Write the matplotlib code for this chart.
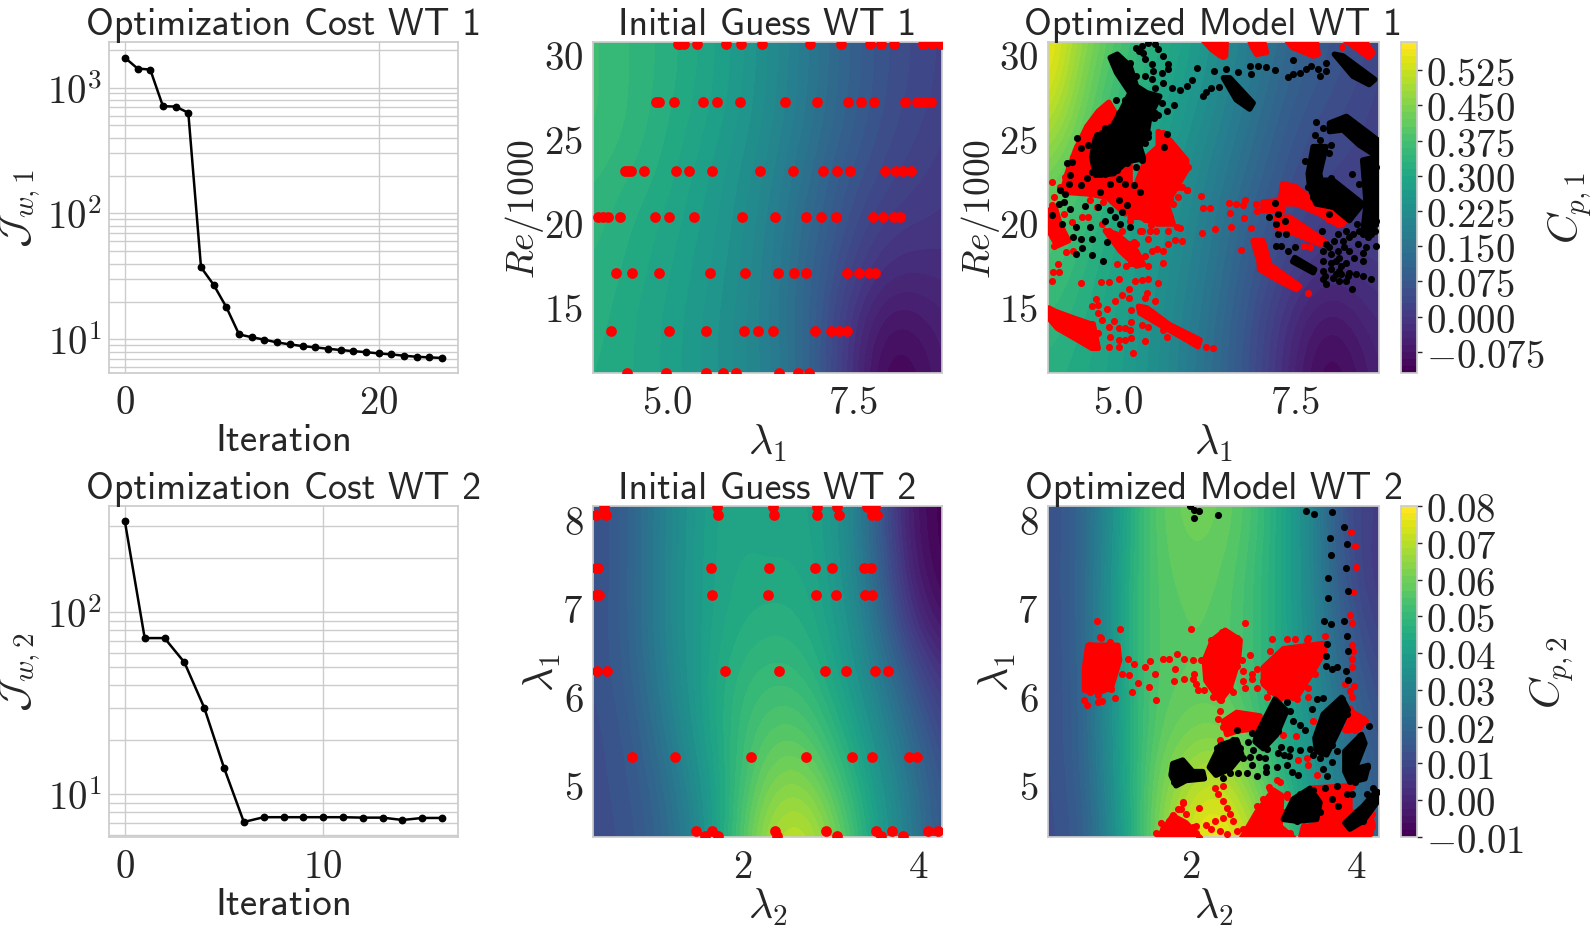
import numpy as np
import matplotlib
matplotlib.use('Agg')
from matplotlib import pyplot as plt
from matplotlib.colors import BoundaryNorm
from matplotlib.ticker import FuncFormatter, NullFormatter

WIDTH = 1592
HEIGHT = 929

plt.rcParams['mathtext.fontset'] = 'cm'
plt.rcParams['font.size'] = 28
plt.rcParams['text.color'] = '.15'
plt.rcParams['axes.labelcolor'] = '.15'
plt.rcParams['xtick.color'] = '.15'
plt.rcParams['ytick.color'] = '.15'

# optimization cost per iteration
COST_WT1 = [1729, 1416, 1390, 711, 707, 630, 37.4, 27.1, 18.0, 10.96, 10.4, 9.95, 9.46,
            9.13, 8.85, 8.64, 8.43, 8.23, 8.07, 7.92, 7.74, 7.6, 7.42, 7.28, 7.2, 7.12]
COST_WT2 = [317, 72.3, 72.3, 53.2, 30.0, 14.0, 7.05, 7.49, 7.49, 7.49, 7.49, 7.49, 7.45,
            7.45, 7.23, 7.42, 7.42]

# Cp surfaces, rows go with the second coordinate
LAM1_NODES = [4.0, 4.5, 5.0, 5.5, 6.0, 6.5, 7.0, 7.5, 8.0, 8.5, 9.0]
RE_NODES = [11, 14, 17, 20, 23, 26, 29, 32]
CP1_INITIAL = [
    [.317, .303, .282, .254, .218, .176, .092, -.021, -.120, -.085, -.035],
    [.324, .303, .282, .254, .218, .169, .092, -.014, -.085, -.064, -.035],
    [.331, .310, .289, .261, .225, .169, .099, .021, -.028, -.028, -.021],
    [.338, .317, .296, .268, .233, .176, .113, .049, .007, .000, -.007],
    [.352, .331, .310, .275, .240, .190, .127, .070, .035, .014, .000],
    [.366, .345, .317, .289, .254, .204, .148, .092, .049, .028, .007],
    [.366, .345, .324, .296, .261, .211, .155, .099, .056, .035, .014],
    [.366, .345, .324, .296, .261, .211, .155, .099, .056, .035, .014],
]
CP1_OPTIMIZED = [
    [.324, .303, .275, .233, .176, .113, .035, -.050, -.120, -.064, -.028],
    [.345, .317, .282, .240, .183, .120, .042, -.035, -.085, -.042, -.014],
    [.374, .331, .289, .247, .197, .134, .063, .007, -.021, -.007, .007],
    [.402, .352, .303, .261, .211, .148, .084, .035, .007, .014, .021],
    [.444, .381, .324, .275, .225, .169, .113, .056, .028, .021, .021],
    [.515, .416, .345, .296, .247, .190, .134, .077, .049, .028, .014],
    [.571, .444, .366, .317, .268, .211, .155, .099, .070, .042, .014],
    [.585, .472, .388, .331, .282, .225, .169, .113, .077, .049, .021],
]

LAM2_NODES = [0.3, 0.7, 1.1, 1.5, 1.9, 2.3, 2.7, 3.1, 3.5, 3.9, 4.3]
LAM1_ROWS = [4.4, 5.0, 5.6, 6.2, 6.8, 7.4, 8.0, 8.6]
CP2_INITIAL = [
    [.012, .013, .020, .032, .051, .069, .073, .060, .042, .028, .013],
    [.012, .014, .022, .035, .049, .062, .064, .053, .0395, .026, .0125],
    [.012, .015, .026, .039, .049, .056, .056, .047, .035, .0215, .008],
    [.0125, .017, .029, .040, .048, .051, .050, .042, .0305, .015, .003],
    [.0125, .018, .0305, .040, .045, .047, .046, .0395, .026, .005, -.0055],
    [.012, .018, .0305, .040, .044, .044, .044, .038, .022, -.001, -.010],
    [.012, .018, .030, .0395, .044, .042, .043, .037, .020, -.004, -.010],
    [.012, .018, .030, .0395, .044, .042, .043, .037, .020, -.004, -.010],
]
CP2_OPTIMIZED = [
    [.012, .015, .035, .057, .073, .080, .073, .0575, .0395, .028, .019],
    [.012, .017, .037, .057, .067, .073, .064, .0485, .037, .026, .015],
    [.012, .018, .038, .055, .060, .062, .057, .044, .035, .022, .0125],
    [.012, .018, .0395, .055, .057, .057, .053, .044, .033, .019, .010],
    [.012, .019, .0395, .055, .057, .057, .053, .044, .031, .015, .007],
    [.012, .019, .039, .055, .058, .058, .053, .044, .0305, .012, .004],
    [.012, .019, .037, .055, .060, .060, .055, .044, .030, .010, .006],
    [.012, .019, .037, .055, .060, .060, .055, .044, .030, .010, .006],
]

# sampled operating points used to start the fit, one list per Reynolds row
GUESS_WT1_RE = [11.0, 13.52, 16.95, 20.28, 23.0, 27.1, 30.6]
GUESS_WT1_LAM = [
    [4.47, 4.99, 5.52, 5.75, 5.93, 6.51, 6.76, 6.90],
    [4.25, 5.03, 5.53, 6.03, 6.22, 6.42, 6.99, 7.20, 7.31, 7.42],
    [4.32, 4.53, 4.89, 5.58, 6.05, 6.49, 6.71, 6.87, 7.42, 7.58, 7.71, 7.79],
    [4.08, 4.14, 4.21, 4.37, 4.84, 5.03, 5.36, 6.01, 6.45, 6.87, 7.07, 7.27, 7.77, 7.90, 8.05, 8.13],
    [4.44, 4.48, 4.52, 4.69, 5.12, 5.30, 5.61, 6.25, 6.69, 7.10, 7.28, 7.46, 7.93, 8.07, 8.17, 8.28],
    [4.85, 4.89, 5.09, 5.49, 5.67, 5.98, 6.58, 7.02, 7.43, 7.60, 7.78, 8.20, 8.35, 8.45, 8.54],
    [5.15, 5.18, 5.23, 5.40, 5.80, 5.99, 6.28, 6.92, 7.33, 7.72, 7.87, 8.05, 8.43, 8.56, 8.67],
]
GUESS_WT2_LAM1 = [8.14, 8.045, 7.45, 7.14, 6.28, 5.30, 4.468, 4.41]
GUESS_WT2_LAM2 = [
    [.42, 1.70, 2.34, 2.85, 3.07, 3.41, 3.51],
    [.32, .44, 1.71, 2.35, 2.85, 3.09, 3.47, 3.53],
    [.32, .35, 1.64, 2.30, 2.82, 3.02, 3.38, 3.46],
    [.32, .36, 1.65, 2.28, 2.83, 3.06, 3.39, 3.47],
    [.34, .45, 1.79, 2.41, 2.94, 3.17, 3.51, 3.65],
    [.73, 1.22, 2.09, 2.72, 3.24, 3.47, 3.89, 3.98],
    [1.46, 1.65, 2.36, 2.95, 3.52, 3.70, 4.11, 4.23],
    [1.57, 1.71, 2.39, 3.07, 3.57, 3.82],
]

# outlines of the regions where the operating points pile up (lambda_1, Re/1000)
DENSE_RED_WT1 = [
    [(6.20, 30.83), (6.53, 30.83), (6.52, 29.87), (6.45, 29.87), (6.32, 30.27)],
    [(6.86, 30.83), (7.05, 30.83), (7.10, 30.07), (6.96, 29.97), (6.89, 30.47)],
    [(7.38, 30.83), (7.80, 30.83), (7.83, 29.97), (7.76, 29.87), (7.59, 30.17), (7.47, 30.37)],
    [(8.20, 30.83), (8.48, 30.83), (8.60, 30.07), (8.55, 29.77), (8.39, 30.27)],
    [(4.87, 27.11), (4.96, 26.47), (5.17, 24.87), (5.17, 22.87), (5.17, 21.07), (5.10, 20.47), (4.84, 21.47),
     (4.56, 21.67), (4.21, 21.77), (4.28, 22.87), (4.40, 24.27), (4.56, 25.67), (4.72, 26.57)],
    [(5.57, 25.37), (5.73, 24.87), (5.97, 23.67), (5.97, 23.07), (5.83, 22.07), (5.69, 21.07), (5.78, 19.87),
     (5.55, 19.87), (5.31, 20.27), (5.17, 20.27), (5.26, 22.27), (5.41, 23.87), (5.57, 24.47)],
    [(4.02, 20.67), (4.11, 20.87), (4.18, 19.87), (4.30, 18.87), (4.14, 18.57), (4.02, 19.47)],
    [(4.82, 19.47), (4.98, 19.27), (5.26, 18.27), (5.36, 17.47), (5.26, 17.37), (5.03, 18.27)],
    [(4.02, 14.87), (4.11, 14.67), (4.37, 14.27), (4.65, 13.87), (4.72, 12.47), (4.63, 12.47), (4.47, 12.87),
     (4.14, 13.67), (4.02, 14.27)],
    [(5.29, 14.97), (5.41, 14.87), (5.73, 13.87), (6.16, 12.97), (6.13, 12.57), (5.97, 12.97), (5.59, 13.87),
     (5.31, 14.57)],
    [(7.00, 17.67), (7.07, 18.47), (7.14, 17.47), (7.57, 16.17), (7.52, 15.97), (7.24, 16.57), (7.00, 17.17)],
    [(7.33, 22.27), (7.52, 22.07), (7.80, 21.07), (8.23, 20.07), (8.13, 19.77), (7.85, 20.47), (7.52, 21.07),
     (7.29, 21.07)],
    [(7.24, 20.27), (7.43, 20.27), (7.85, 19.07), (7.94, 18.77), (7.85, 18.67), (7.52, 19.27), (7.24, 19.67)],
    [(7.05, 21.17), (7.33, 21.27), (7.33, 20.67), (7.05, 20.67)],
    [(6.91, 18.87), (7.05, 18.87), (7.14, 17.47), (7.00, 17.57)],
]
DENSE_BLACK_WT1 = [
    [(4.89, 29.77), (4.99, 29.97), (5.17, 29.27), (5.26, 28.07), (5.41, 27.67), (5.59, 27.47), (5.45, 26.27),
     (5.41, 25.27), (5.31, 24.47), (5.08, 24.47), (4.89, 25.47), (5.05, 26.67), (5.17, 27.67), (4.98, 28.87)],
    [(6.49, 28.57), (6.58, 28.57), (6.91, 27.07), (6.86, 26.71), (6.67, 27.27)],
    [(8.06, 29.97), (8.18, 29.87), (8.63, 28.47), (8.55, 28.17), (8.32, 28.67)],
    [(7.99, 25.87), (8.23, 26.27), (8.67, 24.87), (8.67, 23.87), (8.41, 24.57), (8.18, 25.47), (7.99, 25.37)],
    [(7.76, 24.47), (7.94, 24.47), (7.85, 22.87), (7.90, 21.87), (8.04, 20.87), (7.80, 21.07), (7.71, 22.07),
     (7.69, 22.87)],
    [(7.90, 22.47), (8.04, 22.47), (8.46, 21.07), (8.27, 20.07), (7.99, 21.07)],
    [(8.46, 23.67), (8.67, 23.87), (8.67, 19.87), (8.46, 19.27), (8.51, 21.07)],
    [(7.50, 17.87), (7.78, 17.17), (7.76, 16.97), (7.47, 17.63)],
    [(4.68, 24.97), (4.91, 25.07), (5.31, 24.47), (5.36, 23.77), (5.12, 23.57), (4.94, 22.87), (4.68, 22.77),
     (4.63, 23.87)],
]
LOOSE_RED_WT1 = [
    (4.06, 22.37), (4.09, 21.47), (4.07, 20.97), (4.10, 18.53), (4.27, 18.21), (4.15, 17.51), (4.08, 17.03),
    (4.16, 17.03), (4.07, 16.47), (4.48, 16.33), (4.76, 16.41), (4.87, 16.43), (4.98, 17.51), (5.11, 17.37),
    (5.19, 17.57), (5.31, 17.57), (5.38, 17.97), (5.43, 17.37), (5.63, 17.57), (5.24, 16.47), (5.34, 16.53),
    (5.43, 16.57), (5.57, 16.33), (5.01, 16.57), (5.15, 15.97), (5.05, 15.67), (4.96, 15.27), (5.16, 15.47),
    (5.41, 15.77), (5.38, 15.47), (5.52, 15.27), (4.69, 15.41), (4.63, 14.97), (4.72, 15.07), (4.84, 14.81),
    (4.72, 14.57), (5.19, 14.77), (4.77, 14.17), (4.94, 14.11), (4.63, 13.91), (4.72, 13.37), (4.87, 13.71),
    (5.01, 13.67), (5.10, 13.67), (5.19, 14.03), (5.17, 13.57), (5.34, 13.83), (5.42, 13.71), (4.89, 13.17),
    (5.01, 12.97), (5.10, 12.97), (5.19, 13.11), (5.38, 12.91), (4.87, 12.53), (5.02, 12.57), (5.21, 12.17),
    (5.64, 13.57), (5.69, 13.17), (6.24, 12.57), (6.34, 12.47), (7.69, 15.77), (6.18, 21.53), (6.20, 20.81),
    (6.30, 20.81), (6.19, 19.31), (6.37, 19.57), (6.60, 19.67), (6.88, 19.61), (6.78, 20.21), (6.58, 20.53),
    (6.57, 21.11), (6.67, 21.03), (6.79, 21.27), (6.77, 21.01), (6.95, 21.07), (6.96, 20.67), (6.74, 18.31),
    (6.95, 18.67), (7.63, 18.57), (7.72, 18.51), (7.51, 19.63), (7.97, 20.17), (8.16, 19.91), (5.81, 18.91),
    (5.91, 18.83), (5.88, 19.63), (5.71, 18.67), (5.64, 18.27), (5.55, 18.37), (5.48, 18.27), (5.43, 18.97),
    (5.46, 19.83), (5.54, 19.47), (5.73, 21.37), (5.85, 21.47), (5.91, 22.07), (5.98, 21.87), (5.99, 23.27),
    (5.78, 21.07), (5.38, 20.17), (5.31, 19.47), (5.22, 18.77), (5.26, 18.67), (8.17, 30.43), (6.49, 29.87),
    (7.80, 30.03), (4.87, 19.47), (4.09, 19.47), (4.04, 20.07), (4.07, 20.77), (4.37, 18.27), (4.23, 20.47),
    (4.49, 20.27), (4.58, 20.27), (4.70, 20.87), (4.35, 19.97), (4.79, 21.17), (4.89, 21.47), (4.61, 21.27),
    (4.77, 19.87),
    (4.72, 26.27), (4.65, 25.87), (4.56, 25.67), (4.49, 24.97), (4.42, 24.47), (4.37, 23.87), (4.30, 23.27),
    (4.25, 22.67), (4.18, 22.07), (4.23, 21.87), (5.64, 25.27), (5.62, 24.77), (5.78, 24.47), (5.90, 23.87),
    (5.97, 23.27), (5.90, 22.87), (5.83, 22.47), (5.85, 22.07), (5.97, 21.91), (5.73, 21.97), (5.66, 20.87),
    (5.73, 20.27), (5.83, 19.67), (5.71, 19.47), (5.62, 20.07), (5.45, 19.47), (5.34, 19.47), (5.17, 20.07),
    (5.05, 19.47), (5.17, 18.67), (5.24, 18.07), (5.31, 17.87),
]
LOOSE_BLACK_WT1 = [
    (5.26, 30.37), (5.34, 30.47), (5.43, 30.67), (5.52, 30.57), (5.57, 30.27), (5.64, 29.87), (5.71, 29.37),
    (5.71, 29.07), (5.62, 28.87), (5.50, 28.97), (5.48, 29.37), (5.38, 29.67), (5.29, 30.17), (5.36, 30.07),
    (5.48, 28.47), (5.64, 28.27), (5.76, 27.97), (5.88, 27.83), (5.97, 28.07), (6.05, 28.43), (6.12, 29.13),
    (6.36, 28.97), (6.52, 29.07), (6.70, 28.93), (6.87, 29.27), (6.98, 29.27), (7.09, 29.19), (7.22, 29.03),
    (6.88, 28.77), (6.20, 27.47), (6.25, 27.71), (6.32, 27.97), (6.43, 28.03), (7.40, 28.63), (7.47, 28.77),
    (7.57, 28.83), (7.66, 29.07), (7.73, 29.27), (7.83, 29.07), (7.85, 28.67), (7.94, 28.97), (7.94, 29.47),
    (7.47, 29.63), (5.79, 26.97), (5.69, 26.57), (5.57, 26.37), (5.51, 26.17), (4.97, 27.27),
    (4.28, 23.47), (4.35, 23.57), (4.47, 24.37), (4.58, 24.57), (4.42, 24.97), (4.70, 25.17), (4.77, 25.27),
    (4.87, 25.27), (4.65, 24.07), (4.75, 23.87), (4.91, 24.37), (5.01, 23.87), (5.17, 23.87), (5.34, 24.87),
    (5.43, 25.07), (5.69, 25.23), (5.65, 24.43), (5.34, 23.67), (5.26, 23.27), (5.12, 23.47), (4.98, 23.07),
    (4.82, 22.87), (4.75, 22.87), (4.63, 22.97), (4.56, 22.63), (4.32, 22.77), (4.30, 22.27), (4.18, 21.91),
    (4.25, 21.67), (4.47, 22.17), (4.89, 22.27), (5.01, 22.57), (5.10, 22.27), (5.23, 22.17), (5.31, 21.77),
    (4.75, 21.77), (5.01, 21.27), (5.12, 20.97), (5.05, 20.57), (4.89, 20.71), (4.72, 20.87), (4.54, 20.91),
    (4.32, 20.77), (4.07, 20.43), (4.21, 19.87), (4.23, 21.17), (4.16, 21.07), (4.40, 19.67), (4.61, 19.67),
    (4.82, 20.07), (5.03, 19.87), (5.17, 19.67), (4.37, 19.07), (4.47, 18.97), (4.63, 18.97), (4.49, 18.43),
    (4.63, 18.03), (4.40, 18.07), (4.84, 18.77), (4.79, 17.67), (4.96, 20.27),
    (7.64, 23.61), (7.80, 25.91), (7.90, 25.57), (8.01, 24.57), (7.78, 25.17), (7.85, 24.87), (7.80, 23.67),
    (7.99, 24.07), (8.01, 22.61), (8.31, 22.83), (8.41, 22.27), (8.55, 22.07), (7.22, 21.13), (7.14, 20.27),
    (7.26, 20.47), (7.24, 19.87), (7.36, 20.07), (7.38, 19.27), (7.26, 19.27), (7.24, 18.57), (7.31, 18.57),
    (7.40, 18.27), (7.50, 18.47), (7.89, 19.43), (8.11, 19.27), (8.18, 18.87), (8.20, 18.47), (8.11, 18.27),
    (8.01, 18.07), (7.90, 17.67), (8.08, 17.67), (8.27, 18.27), (8.46, 18.17), (8.65, 18.57), (8.53, 19.07),
    (8.32, 19.27), (7.90, 17.07), (8.01, 17.17), (8.15, 17.37), (8.27, 16.97), (8.36, 16.87), (8.46, 16.77),
    (8.58, 16.57), (8.04, 16.67), (8.13, 16.47), (8.23, 16.47), (8.31, 15.97), (7.92, 16.77),
    (4.91, 29.77), (5.17, 29.47), (5.12, 28.47), (5.01, 29.07), (5.26, 28.67), (5.38, 28.67), (5.52, 27.97),
    (5.62, 27.07), (5.52, 26.47), (5.36, 26.07), (5.43, 25.27), (5.38, 24.67), (4.89, 25.67), (4.82, 25.57),
    (5.01, 26.47), (5.10, 27.27), (5.17, 27.47), (8.60, 24.27), (8.65, 23.27), (8.34, 25.37), (8.08, 25.87),
    (7.80, 24.37), (7.78, 23.27), (7.71, 22.47), (7.69, 22.07), (7.76, 21.47), (7.90, 21.17), (7.99, 20.47),
    (8.27, 20.27), (8.38, 19.87), (8.46, 19.27), (8.53, 19.47), (8.65, 20.07), (8.60, 21.47), (8.51, 22.47),
    (7.94, 18.67), (8.06, 18.87), (8.23, 19.47), (8.39, 18.67), (8.51, 18.47), (8.58, 19.27), (8.63, 19.47),
    (8.41, 19.47), (8.27, 19.07), (7.99, 18.47), (7.90, 18.27), (8.13, 17.87), (8.23, 17.57), (8.34, 17.87),
    (8.46, 17.67), (8.13, 17.07), (8.25, 16.77), (8.01, 17.57), (7.90, 16.57), (7.94, 16.27), (8.08, 16.87),
    (8.15, 16.87),
]

# same for the second turbine (lambda_2, lambda_1)
DENSE_RED_WT2 = [
    [(.77, 6.57), (1.13, 6.57), (1.15, 6.40), (1.05, 6.09), (.91, 6.04), (.73, 6.06), (.73, 6.32)],
    [(2.17, 6.40), (2.27, 6.63), (2.42, 6.74), (2.60, 6.63), (2.58, 6.40), (2.48, 6.09), (2.36, 5.94), (2.19, 6.17)],
    [(2.88, 6.32), (3.12, 6.53), (3.60, 6.59), (3.62, 6.51), (3.48, 6.28), (3.28, 5.98), (3.06, 5.98), (2.88, 6.13)],
    [(2.40, 5.71), (2.56, 5.81), (2.84, 5.77), (2.80, 5.63), (2.56, 5.60), (2.44, 5.56)],
    [(3.92, 5.83), (4.10, 5.73), (4.04, 5.63), (3.88, 5.60)],
    [(1.59, 4.36), (1.79, 4.64), (1.95, 4.56), (2.15, 4.36)],
    [(2.60, 4.36), (2.80, 4.68), (3.00, 4.93), (3.10, 4.87), (3.08, 4.52), (3.28, 4.36)],
    [(3.32, 4.36), (3.36, 4.51), (3.68, 4.58), (3.96, 4.68), (4.16, 4.68), (4.20, 4.52), (4.12, 4.36)],
    [(3.44, 4.95), (3.92, 4.98), (3.92, 4.68), (3.56, 4.56)],
]
DENSE_BLACK_WT2 = [
    [(1.79, 5.23), (1.91, 5.27), (2.03, 5.14), (2.15, 5.14), (2.17, 5.06), (1.95, 5.04), (1.83, 4.98), (1.77, 5.10)],
    [(2.23, 5.19), (2.36, 5.44), (2.56, 5.50), (2.62, 5.33), (2.48, 5.17), (2.31, 5.10)],
    [(2.80, 5.56), (3.02, 5.96), (3.16, 5.83), (3.04, 5.56), (2.88, 5.40), (2.78, 5.48)],
    [(3.50, 5.52), (3.60, 5.79), (3.82, 5.98), (3.90, 5.84), (3.74, 5.52), (3.64, 5.33), (3.52, 5.37)],
    [(3.86, 5.37), (4.06, 5.56), (4.10, 5.46), (3.98, 5.17), (4.14, 5.21), (4.10, 5.06), (3.92, 5.02), (3.86, 5.14)],
    [(3.12, 4.60), (3.24, 4.83), (3.44, 4.95), (3.56, 4.79), (3.52, 4.60), (3.28, 4.58)],
    [(3.86, 4.56), (4.08, 4.75), (4.24, 4.92), (4.26, 4.81), (4.08, 4.58), (3.92, 4.49)],
]
LOOSE_RED_WT2 = [
    (.88, 6.85), (1.16, 6.76), (2.01, 6.75), (2.66, 6.82), (.92, 6.66), (2.42, 6.72), (2.98, 6.64), (2.27, 6.63),
    (3.42, 6.65), (3.62, 6.67), (3.93, 7.85), (3.98, 7.69), (3.99, 7.46), (3.96, 7.17), (3.92, 6.91), (3.95, 6.82),
    (3.94, 6.57), (3.96, 6.51), (3.95, 6.42), (3.94, 6.33), (3.86, 6.13), (3.97, 6.11), (3.92, 6.05), (3.94, 5.98),
    (1.25, 6.42), (1.32, 6.36), (1.46, 6.33), (1.52, 6.39), (1.67, 6.41), (1.75, 6.42), (1.84, 6.47), (1.93, 6.41),
    (2.03, 6.40), (2.13, 6.40), (1.18, 6.25), (1.26, 6.23), (1.58, 6.24), (1.37, 6.14), (1.50, 6.10), (1.30, 6.04),
    (1.59, 5.95), (1.09, 5.97), (1.82, 6.30), (1.81, 6.17), (1.93, 6.19), (2.03, 6.19), (2.05, 6.25), (2.07, 6.13),
    (2.09, 6.06), (2.17, 6.06), (2.27, 5.99), (2.52, 6.04), (2.66, 6.09), (2.80, 6.09), (2.62, 6.40), (2.64, 6.28),
    (2.72, 6.46), (2.74, 6.25), (2.80, 6.30), (2.74, 6.19), (2.64, 6.17), (.72, 5.95), (.76, 5.89), (.89, 5.93),
    (.94, 5.94), (1.05, 6.08), (2.36, 5.83), (2.34, 5.74), (2.36, 5.50), (2.39, 5.65), (2.30, 4.96), (2.39, 4.98),
    (2.34, 4.89), (2.40, 4.81), (2.44, 4.73), (2.48, 4.66), (2.52, 4.58), (2.40, 4.62), (2.30, 4.58), (2.19, 4.54),
    (2.25, 4.49), (2.36, 4.47), (2.44, 4.43), (2.56, 4.47), (2.07, 4.52), (2.11, 4.73), (1.91, 4.80), (1.89, 4.72),
    (1.79, 4.64), (2.95, 4.97), (3.04, 5.04), (3.16, 4.89), (3.42, 5.21), (3.52, 5.10), (3.30, 5.27), (3.40, 5.29),
    (3.12, 5.56), (3.27, 5.54), (3.48, 5.71), (3.42, 5.98), (3.28, 5.96), (2.92, 5.98),
    (.79, 6.57), (1.03, 6.61), (1.11, 6.55), (.93, 6.65), (.77, 6.44), (.75, 6.21), (.79, 6.04), (.89, 6.01),
    (1.03, 6.09), (1.13, 6.40), (2.38, 6.72), (2.56, 6.65), (2.25, 6.63), (2.15, 6.40), (2.19, 6.27), (2.27, 6.09),
    (2.37, 5.95), (2.48, 6.07), (2.56, 6.34), (3.16, 6.64), (3.26, 6.64), (3.40, 6.63), (3.52, 6.51), (3.60, 6.59),
    (2.96, 6.51), (2.90, 6.32), (2.88, 6.17), (2.96, 6.05), (3.08, 5.97), (3.24, 5.98), (3.42, 6.09), (3.50, 6.25),
    (1.67, 4.49), (1.79, 4.65), (1.91, 4.79), (2.03, 4.51), (2.80, 4.75), (2.88, 4.83), (2.96, 4.94), (3.08, 5.02),
    (3.16, 4.85), (3.12, 4.68), (3.20, 4.45), (2.64, 4.49), (3.92, 5.85), (4.10, 5.71), (3.98, 5.61), (3.86, 5.62),
    (3.37, 4.52), (3.59, 4.64), (3.88, 4.91), (3.68, 4.96), (3.94, 4.98), (4.18, 4.66), (4.16, 4.45),
    (1.65, 4.56), (1.59, 4.45), (1.75, 4.58), (1.85, 4.72), (1.95, 4.66), (2.07, 4.45), (2.11, 4.39),
]
LOOSE_BLACK_WT2 = [
    (2.00, 8.15), (2.05, 8.10), (2.11, 8.09), (2.04, 8.01), (2.34, 8.04), (3.39, 8.09), (3.49, 8.06), (3.71, 8.08),
    (3.85, 7.91), (3.68, 7.79), (3.88, 7.72), (3.69, 7.59), (3.87, 7.44), (3.66, 7.33), (3.90, 7.19), (3.66, 7.11),
    (3.61, 6.85), (3.69, 6.81), (3.85, 6.85), (3.89, 6.68), (3.64, 6.59), (3.90, 6.50), (3.63, 6.45), (3.63, 6.34),
    (3.70, 6.30), (3.77, 6.32), (3.87, 6.28), (3.90, 6.18), (2.74, 5.58), (2.70, 5.47), (2.76, 5.39), (2.56, 5.61),
    (2.64, 5.29), (2.72, 5.30), (2.83, 5.31), (2.90, 5.29), (2.74, 5.21), (2.91, 5.19), (3.04, 5.19), (2.91, 5.14),
    (2.80, 5.09), (2.68, 5.12), (2.58, 5.12), (2.48, 5.13), (2.39, 5.07), (1.83, 5.01), (3.06, 5.35), (3.13, 5.33),
    (3.19, 5.32), (3.09, 5.42), (3.20, 5.40), (3.32, 5.38), (3.16, 5.21), (3.22, 5.14), (3.30, 5.10), (3.24, 5.71),
    (3.32, 5.67), (3.38, 5.61), (3.20, 5.83), (3.16, 5.93), (3.46, 5.85), (3.53, 5.96), (3.60, 5.97), (3.44, 5.40),
    (3.48, 5.33), (3.56, 5.29), (3.60, 5.17), (3.64, 5.09), (3.76, 5.37), (3.70, 5.25), (3.62, 4.95), (3.76, 4.98),
    (3.70, 4.83), (3.78, 4.75), (3.88, 4.89), (4.15, 5.66), (4.20, 4.95), (4.12, 4.89), (3.94, 4.89), (3.28, 4.63),
    (2.90, 5.67), (3.02, 5.90), (3.14, 5.81), (3.06, 5.60), (2.92, 5.40), (2.32, 5.41), (2.52, 5.50), (2.60, 5.41),
    (2.25, 5.19), (2.43, 5.19), (1.87, 5.25), (1.81, 5.02), (2.09, 5.12), (3.56, 5.67), (3.70, 5.86), (3.82, 5.96),
    (3.88, 5.79), (3.70, 5.44), (3.54, 5.40), (4.04, 5.54), (3.92, 5.40), (3.90, 5.17), (4.12, 5.19), (3.98, 5.02),
    (3.18, 4.68), (3.32, 4.89), (3.48, 4.93), (3.56, 4.68), (3.28, 4.58), (4.08, 4.74), (4.24, 4.91), (3.92, 4.52),
    (4.08, 4.58),
]

CP1_TICKS = [-0.075, 0.0, 0.075, 0.15, 0.225, 0.3, 0.375, 0.45, 0.525]
CP2_TICKS = [-0.01, 0.0, 0.01, 0.02, 0.03, 0.04, 0.05, 0.06, 0.07, 0.08]
TITLE_SIZE = 27.3


def new_axes(fig, left, top, right, bottom):
    ax = fig.add_axes([left / WIDTH, 1 - bottom / HEIGHT, (right - left) / WIDTH, (bottom - top) / HEIGHT])
    for spine in ax.spines.values():
        spine.set_color('.8')
        spine.set_linewidth(1.25)
    ax.tick_params(which='both', length=0, labelsize=28, pad=7)
    return ax


def set_ticks(ax, xticks, yticks, xfmt='%g'):
    ax.set_xticks(xticks)
    ax.set_xticklabels(['$' + xfmt % v + '$' for v in xticks])
    ax.set_yticks(yticks)
    ax.set_yticklabels(['$%g$' % v for v in yticks])


def cost_panel(ax, cost, xticks, title, ylabel):
    ax.semilogy(range(len(cost)), cost, '-o', color='k', lw=1.8, ms=4.6)
    ax.set_xlim(-0.05 * (len(cost) - 1), 1.05 * (len(cost) - 1))
    ax.set_xticks(xticks)
    ax.set_xticklabels(['$%d$' % v for v in xticks])
    ax.yaxis.set_major_formatter(FuncFormatter(lambda v, pos: '$10^{%d}$' % round(np.log10(v))))
    ax.yaxis.set_minor_formatter(NullFormatter())
    ax.tick_params(axis='y', which='both', pad=5)
    ax.grid(True, which='both', color='.8', lw=1)
    ax.set_axisbelow(True)
    ax.xaxis.grid(False, which='minor')
    ax.set_title(title, fontsize=TITLE_SIZE, family='cmss10', pad=5)
    ax.set_xlabel('Iteration', fontsize=28, family='cmss10')
    ax.set_ylabel(ylabel, fontsize=30)
    ax.xaxis.set_label_coords(0.5, -0.15)
    ax.yaxis.set_label_coords(-0.192, 0.5)


def surface(ax, xnodes, ynodes, values, levels, xlim, ylim):
    dx = (xnodes[1] - xnodes[0]) / 2
    dy = (ynodes[1] - ynodes[0]) / 2
    norm = BoundaryNorm(levels, 256)
    im = ax.imshow(np.array(values), origin='lower', aspect='auto', cmap='viridis', norm=norm,
                   interpolation='bicubic', interpolation_stage='data',
                   extent=[xnodes[0] - dx, xnodes[-1] + dx, ynodes[0] - dy, ynodes[-1] + dy])
    ax.set_xlim(*xlim)
    ax.set_ylim(*ylim)
    ax.grid(False)
    return im


def dense_regions(ax, regions, color):
    for region in regions:
        xs, ys = zip(*region)
        ax.fill(xs, ys, color=color, lw=4, joinstyle='round', zorder=3)


def loose_points(ax, points, color):
    xs, ys = zip(*points)
    ax.scatter(xs, ys, s=26, c=color, linewidths=0, zorder=3)


def panel_text(ax, title, xlabel, ylabel, ylabel_x, ysize=30):
    ax.set_title(title, fontsize=TITLE_SIZE, family='cmss10', pad=5)
    ax.set_xlabel(xlabel, fontsize=30)
    ax.set_ylabel(ylabel, fontsize=ysize)
    ax.xaxis.set_label_coords(0.5, -0.145)
    ax.yaxis.set_label_coords(ylabel_x, 0.5)


def colorbar(fig, im, top, bottom, ticks, labels, label, label_x):
    cax = new_axes(fig, 1401, top, 1417, bottom)
    cb = fig.colorbar(im, cax=cax, ticks=ticks)
    cb.set_ticklabels(labels)
    cb.outline.set_edgecolor('.8')
    cb.outline.set_linewidth(1.25)
    cax.tick_params(which='major', length=3.5, width=1, labelsize=28, pad=3, color='.15')
    cax.minorticks_off()
    cb.set_label(label, fontsize=30)
    cax.yaxis.set_label_coords(label_x, 0.5)
    return cb


def build():
    fig = plt.figure(figsize=(WIDTH / 100, HEIGHT / 100))

    ax = new_axes(fig, 109, 43, 458, 374)
    cost_panel(ax, COST_WT1, [0, 20], 'Optimization Cost WT 1', r'$\mathcal{J}_{w,1}$')
    ax.set_ylim(5.41, 2301)

    ax = new_axes(fig, 109, 507, 458, 838)
    cost_panel(ax, COST_WT2, [0, 10], 'Optimization Cost WT 2', r'$\mathcal{J}_{w,2}$')
    ax.set_ylim(5.83, 384.7)

    levels1 = np.linspace(-0.12, 0.585, 48)
    levels2 = np.linspace(-0.01, 0.08, 48)
    lim_top = (4.01, 8.69), (11.0, 30.7)
    lim_bottom = (0.29, 4.27), (4.40, 8.147)

    # top row, middle
    ax = new_axes(fig, 593, 43, 942, 374)
    surface(ax, LAM1_NODES, RE_NODES, CP1_INITIAL, levels1, *lim_top)
    for re, lams in zip(GUESS_WT1_RE, GUESS_WT1_LAM):
        ax.scatter(lams, [re] * len(lams), s=60, c='r', linewidths=0, zorder=3)
    set_ticks(ax, [5.0, 7.5], [15, 20, 25, 30], '%.1f')
    panel_text(ax, 'Initial Guess WT 1', r'$\lambda_1$', r'$Re/1000$', -0.135, 27)

    # top row, right
    ax = new_axes(fig, 1048, 43, 1379, 374)
    im = surface(ax, LAM1_NODES, RE_NODES, CP1_OPTIMIZED, levels1, *lim_top)
    dense_regions(ax, DENSE_RED_WT1, 'r')
    loose_points(ax, LOOSE_RED_WT1, 'r')
    dense_regions(ax, DENSE_BLACK_WT1, 'k')
    loose_points(ax, LOOSE_BLACK_WT1, 'k')
    set_ticks(ax, [5.0, 7.5], [15, 20, 25, 30], '%.1f')
    panel_text(ax, 'Optimized Model WT 1', r'$\lambda_1$', r'$Re/1000$', -0.139, 27)
    colorbar(fig, im, 43, 374, CP1_TICKS, ['$%.3f$' % v for v in CP1_TICKS], r'$C_{p,1}$', 9.0)

    # bottom row, middle
    ax = new_axes(fig, 593, 507, 942, 838)
    surface(ax, LAM2_NODES, LAM1_ROWS, CP2_INITIAL, levels2, *lim_bottom)
    for lam1, lams in zip(GUESS_WT2_LAM1, GUESS_WT2_LAM2):
        ax.scatter(lams, [lam1] * len(lams), s=60, c='r', linewidths=0, zorder=3)
    set_ticks(ax, [2, 4], [5, 6, 7, 8])
    panel_text(ax, 'Initial Guess WT 2', r'$\lambda_2$', r'$\lambda_1$', -0.085)

    # bottom row, right
    ax = new_axes(fig, 1048, 507, 1379, 838)
    im = surface(ax, LAM2_NODES, LAM1_ROWS, CP2_OPTIMIZED, levels2, *lim_bottom)
    dense_regions(ax, DENSE_RED_WT2, 'r')
    loose_points(ax, LOOSE_RED_WT2, 'r')
    dense_regions(ax, DENSE_BLACK_WT2, 'k')
    loose_points(ax, LOOSE_BLACK_WT2, 'k')
    set_ticks(ax, [2, 4], [5, 6, 7, 8])
    panel_text(ax, 'Optimized Model WT 2', r'$\lambda_2$', r'$\lambda_1$', -0.09)
    colorbar(fig, im, 507, 838, CP2_TICKS, ['$%.2f$' % v for v in CP2_TICKS], r'$C_{p,2}$', 7.9)

    fig.savefig('out.png', dpi=100)
    plt.close(fig)


if __name__ == '__main__':
    build()
